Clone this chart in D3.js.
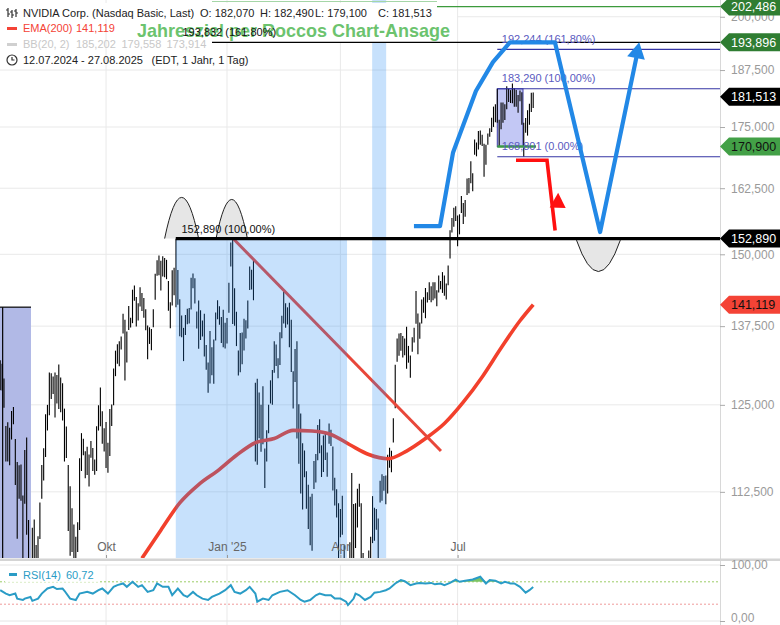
<!DOCTYPE html>
<html><head><meta charset="utf-8">
<script src="https://cdn.jsdelivr.net/npm/d3@7"></script>
<style>
html,body{margin:0;padding:0;background:#fff;}
svg{display:block;font-family:"Liberation Sans",Arial,sans-serif;}
</style></head><body>
<svg id="c" width="780" height="625"></svg>
<script>
// ---------------- DATA (NVIDIA daily bars, 12.07.2024 - 27.08.2025) ----------------
const highs = [
131.92,131.39,129.04,121.85,122.40,121.60,124.07,124.69,119.94,116.63,116.20,116.28,111.99,118.34,
120.16,108.72,103.41,107.71,108.80,105.50,106.60,111.05,116.23,118.60,123.57,125.00,130.00,129.88,129.35,130.00,129.60,131.26,129.20,128.33,124.43,121.75,
116.21,113.27,110.29,108.15,106.55,108.44,117.19,120.79,119.96,118.18,118.80,117.70,119.66,118.62,116.99,121.80,124.94,127.67,124.03,121.50,
122.44,119.38,124.36,125.04,130.64,133.48,134.52,135.00,135.78,139.60,138.57,136.62,140.89,138.90,143.71,144.42,142.43,141.35,144.13,143.14,142.26,140.33,137.61,
137.31,137.02,140.36,146.49,148.93,149.77,148.85,149.65,149.33,149.00,145.24,141.55,147.13,147.56,152.89,147.16,142.05,139.30,137.22,139.35,
140.45,140.54,145.79,146.54,145.70,139.95,141.82,140.17,138.44,139.60,134.40,131.59,136.70,134.03,135.28,139.79,141.90,140.85,139.02,140.27,138.07,
138.88,144.90,152.16,153.13,143.95,139.92,133.49,136.38,136.45,138.75,138.50,141.83,147.79,147.23,148.97,128.40,129.00,126.89,125.00,127.85,
118.57,121.20,125.00,128.77,130.37,135.00,134.48,132.24,136.50,139.25,143.44,141.36,140.67,141.46,138.59,130.20,133.73,135.01,125.09,
123.70,119.31,118.28,115.35,113.48,111.85,112.23,116.77,117.76,121.98,122.84,119.02,120.45,120.94,117.99,122.22,121.29,118.84,114.45,112.87,110.96,
110.20,111.98,105.46,100.13,101.75,105.85,115.10,110.86,110.96,112.94,113.62,110.97,104.47,99.53,99.81,104.80,106.54,111.92,110.37,110.20,108.92,
114.03,114.94,114.67,114.74,117.68,118.68,118.23,123.00,131.22,135.44,136.30,136.35,135.87,135.45,137.40,134.25,132.68,135.66,137.25,143.49,139.62,
138.12,142.00,142.40,144.00,143.27,145.00,144.29,144.99,145.00,143.59,146.18,145.22,146.80,146.20,144.78,148.00,154.45,156.72,158.71,158.99,
157.20,157.44,160.98,159.60,160.20,164.42,164.50,167.89,165.49,172.40,171.75,174.16,174.25,173.38,171.50,171.28,173.64,174.72,177.00,179.38,179.89,183.30,
176.54,180.27,180.26,179.89,183.88,183.30,183.00,184.47,183.40,183.03,181.90,182.94,182.50,175.91,176.90,178.60,180.00,182.44,182.49
];
const lows = [
127.22,127.18,124.58,116.72,116.71,116.20,119.86,122.10,113.44,106.30,111.58,111.30,102.54,110.88,
106.81,101.37,90.69,100.55,98.69,97.52,103.43,106.26,111.58,114.07,117.34,121.18,123.42,125.89,126.66,123.10,125.22,124.37,123.88,122.64,116.71,117.22,
107.29,104.12,104.60,100.95,103.69,104.60,107.42,115.38,117.60,114.36,114.83,113.22,117.25,115.39,114.86,115.38,121.17,121.80,119.26,118.15,
115.79,115.14,117.50,121.83,124.95,129.42,131.38,131.00,133.66,136.30,128.74,131.58,136.87,137.28,138.00,141.78,137.46,138.46,140.80,140.05,138.90,136.81,132.11,
134.57,133.56,137.33,141.96,146.17,146.26,143.57,146.01,145.90,145.55,140.08,137.15,140.99,142.73,140.70,141.10,135.82,135.67,131.80,136.05,
137.82,137.95,140.29,143.95,141.31,137.13,133.79,135.21,135.80,132.54,130.42,126.86,128.28,129.55,128.22,135.12,138.65,137.73,134.71,134.02,133.83,
134.63,139.73,147.82,137.88,137.56,134.22,129.51,130.05,131.29,133.49,135.47,137.09,143.67,143.72,141.88,116.70,116.25,120.05,118.10,119.19,
113.01,116.70,120.76,125.21,125.00,129.96,131.02,129.08,131.17,135.50,137.93,137.22,137.78,134.03,130.08,124.44,128.49,120.01,116.40,
112.28,110.11,114.51,110.22,107.56,105.46,104.77,112.88,113.79,116.90,117.90,114.54,115.24,116.92,114.56,119.26,118.92,112.70,110.66,109.07,103.65,
106.47,106.79,101.19,92.11,86.62,94.46,94.33,99.15,105.10,107.76,110.50,102.25,100.05,95.04,97.28,102.02,103.11,105.73,106.02,107.44,102.50,
111.06,111.30,112.66,110.82,112.28,115.85,115.21,119.44,124.47,131.68,132.66,133.46,132.39,132.74,130.59,131.55,129.16,133.31,134.79,137.91,132.92,
135.40,137.95,139.73,138.83,141.51,141.94,141.53,141.87,142.20,140.85,143.20,143.78,143.15,142.65,142.03,144.50,149.26,154.02,155.10,156.16,
151.49,153.67,157.69,155.60,157.00,161.16,161.50,163.47,161.90,169.20,168.90,170.30,171.26,171.00,164.77,167.20,171.30,172.96,173.97,175.02,176.04,175.93,
170.89,174.52,175.90,176.48,178.80,180.40,180.17,180.10,179.35,179.35,178.04,180.57,175.49,168.80,173.80,173.19,175.46,178.19,179.10
];
// EMA(200) (bar index, value)
const emaIdx = [75,85,95,105,115,125,135,145,155,165,175,185,195,205,215,225,235,245,255,265,275,282];
const emaVal = [103.8,107.4,111.0,113.5,115.4,117.6,119.4,120.0,121.2,121.1,120.6,119.1,117.7,117.1,118.2,120.0,122.2,125.4,129.3,133.9,138.4,141.12];
// RSI(14) (bar index, value)
const rsiIdx = [0,3,5,8,9,12,13,16,17,20,22,25,28,30,33,34,37,40,42,46,49,52,54,57,60,62,65,67,70,73,75,78,81,83,86,89,91,94,97,99,102,104,107,110,112,116,119,122,124,127,130,132,135,136,139,142,144,148,152,156,159,161,164,167,169,172,175,177,180,183,184,187,188,190,193,196,198,201,204,206,209,212,214,217,220,222,225,228,230,233,235,238,241,243,246,250,254,257,259,262,265,267,270,272,275,278,280,282];
const rsiVal = [55,49,46,49,40,37.5,40,43,36,40,49,58,61,57,58,54,40,37.5,49,52,49,55,58,49,61,64,67,61,70,61,64,52,55,67,61,61,46,58,46,43,52,46,40,37.5,43,49,55,64,52,49,55,61,49,34.5,40,37.5,46,52,55,46,37.5,34.5,37.5,46,49,46,46,40,40,34.5,28.5,40,49,46,37.5,43,50.6,52,55,58,67,73,71,64,67,68,67,68,65.5,67,64,68,74,70,72,74,79,67,73,72,67,70,67,67,61,50.6,55,60.72];
// x-axis ticks
const tickMonths = ["2024-10","2025-01","2025-04","2025-07"];
const tickLabels = ["Okt","Jan '25","Apr","Jul"];
const yTicks = [112.5,125,137.5,150,162.5,175,187.5,200];
const rsiTicks = [0,100];
// price markers on the right axis
const markerVals = [202.486,193.896,181.513,170.9,152.89,141.119];
const markerKinds = ["dg","dg","bk","lg","bk","rd"];
// Fibonacci levels
const fibVals = [192.244,183.29,168.801];
const fibLabels = ["192,244 (161,80%)","183,290 (100,00%)","168,801 (0.00%)"];
// drawings (bar index / price)
const trendIdx = [123.2,233.2], trendVal = [152.9,118.2];
const bluePathIdx = [218.9,232.7,239.6,251.7,260.7,269.7,293.5,317.4,336.6];
const bluePathVal = [155.2,155.2,169.7,182.8,189.3,193.9,193.9,154.1,190.4];
const blueTip = [338.1,193.9];
const redPathIdx = [272.9,289.3,293.6], redPathVal = [168.1,168.1,154.4];
const redArrowBase = [294.6,158.4], redArrowTip = [295.2,161.6];
const humpIdx = [96.0,122.5,316.5], humpHalf = [9.0,8.3,11.6], humpBase = [152.89,152.89,152.6], humpPeak = [160.7,160.3,146.9];

// ---------------- SETUP ----------------
const holidays = new Set(["2024-09-02","2024-11-28","2024-12-25","2025-01-01","2025-01-09","2025-01-20","2025-02-17","2025-04-18","2025-05-26","2025-06-19","2025-07-04"]);
const dates = [];
for (let d = new Date(Date.UTC(2024,6,12)); d <= new Date(Date.UTC(2025,7,27)); d.setUTCDate(d.getUTCDate()+1)) {
  const wd = d.getUTCDay(), s = d.toISOString().slice(0,10);
  if (wd===0||wd===6||holidays.has(s)) continue;
  dates.push(s);
}
const N = highs.length;
const W = 780, PR = 720, MB = 558;
const x = d3.scaleLinear().domain([0, N-1]).range([0.2, 533.2]);
const y = d3.scaleLog().domain([103.84, 204.1]).range([MB, 0]);
const yR = d3.scaleLinear().domain([0,100]).range([621,565]);
const loc = d3.formatLocale({decimal:",", thousands:".", grouping:[3], currency:["","€"]});
const f3 = loc.format(".3f"), f2 = loc.format(".2f");
const tickIdx = tickMonths.map(m => dates.findIndex(s => s.startsWith(m)));

const svg = d3.select("#c");
const defs = svg.append("defs");
defs.append("clipPath").attr("id","mainClip").append("rect").attr("x",0).attr("y",0).attr("width",PR).attr("height",MB);

// gridlines
const grid = svg.append("g");
grid.selectAll("line.h").data(yTicks).join("line")
  .attr("x1",0).attr("x2",PR).attr("y1",d=>y(d)).attr("y2",d=>y(d)).attr("stroke","#e9e9e9");
grid.selectAll("line.v").data(tickIdx).join("line")
  .attr("x1",d=>x(d)).attr("x2",d=>x(d)).attr("y1",0).attr("y2",MB).attr("stroke","#e9e9e9");
grid.selectAll("line.vr").data(tickIdx).join("line")
  .attr("x1",d=>x(d)).attr("x2",d=>x(d)).attr("y1",565).attr("y2",625).attr("stroke","#e9e9e9");

const main = svg.append("g").attr("clip-path","url(#mainClip)");
// purple boxes (under bars)
main.append("rect").attr("x",x(-0.1)).attr("y",y(140.70)).attr("width",x(16.3)-x(-0.1)).attr("height",MB-y(140.70)).attr("fill","#b1b9e6");
main.append("line").attr("x1",x(-0.1)).attr("x2",x(16.3)).attr("y1",y(140.70)).attr("y2",y(140.70)).attr("stroke","#000").attr("stroke-width",1.2);
main.append("line").attr("x1",x(1.3)).attr("x2",x(1.3)).attr("y1",y(140.70)).attr("y2",MB).attr("stroke","#000").attr("stroke-width",1.2);
main.append("rect").attr("x",x(263)).attr("y",y(183.29)).attr("width",x(276.6)-x(263)).attr("height",y(170.9)-y(183.29))
  .attr("fill","#c3c8f5").attr("stroke","#3b3ba6").attr("stroke-width",1);

// bars
main.append("g").selectAll("line").data(d3.range(N)).join("line")
  .attr("x1",i=>x(i)).attr("x2",i=>x(i)).attr("y1",i=>y(highs[i])).attr("y2",i=>y(lows[i]))
  .attr("stroke","#000").attr("stroke-width",1.1);

// EMA 200
main.append("path").datum(d3.range(emaIdx.length))
  .attr("d", d3.line().x(k=>x(emaIdx[k])).y(k=>y(emaVal[k])).curve(d3.curveMonotoneX))
  .attr("fill","none").attr("stroke","#f2402c").attr("stroke-width",3.6);
// trend line
main.append("line").attr("x1",x(trendIdx[0])).attr("y1",y(trendVal[0])).attr("x2",x(trendIdx[1])).attr("y2",y(trendVal[1]))
  .attr("stroke","#e8473a").attr("stroke-width",3);

// blue highlight overlays
main.append("rect").attr("x",x(92.9)).attr("y",y(152.89)).attr("width",x(183.5)-x(92.9)).attr("height",MB-y(152.89))
  .attr("fill","rgb(40,140,245)").attr("fill-opacity",0.26);
main.append("rect").attr("x",x(196.8)).attr("y",0).attr("width",x(204.2)-x(196.8)).attr("height",MB)
  .attr("fill","rgb(40,140,245)").attr("fill-opacity",0.26);

// legend background for green text
svg.append("rect").attr("x",135).attr("y",9).attr("width",322).attr("height",34).attr("fill","#fff");
svg.append("rect").attr("x",0).attr("y",3).attr("width",437).attr("height",16).attr("fill","#fff");
svg.append("line").attr("x1",212).attr("x2",437).attr("y1",1.5).attr("y2",1.5).attr("stroke","#a5d6a7").attr("stroke-width",1.2);
svg.append("text").attr("x",137).attr("y",36.5).attr("font-size",19).attr("font-weight","bold")
  .attr("fill","#6cc36e").attr("textLength",313).attr("lengthAdjust","spacingAndGlyphs").text("Jahresziel per Roccos Chart-Ansage");

// humps (under the level labels)
humpIdx.forEach((c,k)=>{
  const x0=x(c-humpHalf[k]), x1=x(c+humpHalf[k]), xc=x(c), yb=y(humpBase[k]), yp=y(humpPeak[k]);
  const cy = yb + 2*(yp-yb);
  svg.append("path").attr("d",`M${x0},${yb} Q${xc},${cy} ${x1},${yb} Z`).attr("fill","#e6e6e6");
  svg.append("path").attr("d",`M${x0},${yb} Q${xc},${cy} ${x1},${yb}`).attr("fill","none").attr("stroke","#222").attr("stroke-width",1);
});

// horizontal level lines
svg.append("line").attr("x1",437).attr("x2",PR).attr("y1",y(202.486)).attr("y2",y(202.486)).attr("stroke","#3c9a3c").attr("stroke-width",1.2);
svg.append("line").attr("x1",212).attr("x2",PR).attr("y1",y(193.896)).attr("y2",y(193.896)).attr("stroke","#000").attr("stroke-width",1.2);
svg.append("text").attr("x",182.5).attr("y",y(193.896)-6.5).attr("font-size",11).attr("fill","#111").text("193,832 (161.80%)");
svg.append("line").attr("x1",x(92.9)).attr("x2",PR).attr("y1",y(152.89)).attr("y2",y(152.89)).attr("stroke","#000").attr("stroke-width",3.2);
svg.append("text").attr("x",181.5).attr("y",y(152.89)-6).attr("font-size",11).attr("fill","#111").text("152,890 (100,00%)");
// fib lines
svg.selectAll("line.fib").data(fibVals).join("line")
  .attr("x1",x(263)).attr("x2",PR).attr("y1",d=>y(d)).attr("y2",d=>y(d)).attr("stroke","#3434a4").attr("stroke-width",1.1);
svg.append("line").attr("x1",x(263)).attr("x2",x(283.5)).attr("y1",y(170.9)).attr("y2",y(170.9)).attr("stroke","#3c9a46").attr("stroke-width",2.5);
svg.append("g").selectAll("text").data(fibVals).join("text")
  .attr("x",x(263)+4.5).attr("y",d=>y(d)-6.5).attr("font-size",11).attr("fill","#5a5ac0").text((d,i)=>fibLabels[i]);

// arrows
function arrowHead(bx,by,tx,ty,len,half,color){
  const dx=tx-bx, dy=ty-by, L=Math.hypot(dx,dy), ux=dx/L, uy=dy/L;
  const cx=tx-ux*len, cy=ty-uy*len, nx=-uy, ny=ux;
  svg.append("path").attr("d",`M${tx},${ty} L${cx+nx*half},${cy+ny*half} L${cx-nx*half},${cy-ny*half} Z`).attr("fill",color);
}
svg.append("path").datum(d3.range(bluePathIdx.length))
  .attr("d", d3.line().x(k=>x(bluePathIdx[k])).y(k=>y(bluePathVal[k])))
  .attr("fill","none").attr("stroke","#2288e6").attr("stroke-width",4.2).attr("stroke-linejoin","round");
arrowHead(x(bluePathIdx[7]),y(bluePathVal[7]),x(blueTip[0]),y(blueTip[1]),16,9,"#2288e6");
svg.append("path").datum(d3.range(redPathIdx.length))
  .attr("d", d3.line().x(k=>x(redPathIdx[k])).y(k=>y(redPathVal[k])))
  .attr("fill","none").attr("stroke","#ff1010").attr("stroke-width",3.6);
arrowHead(x(redArrowBase[0]),y(redArrowBase[1])+20,x(redArrowTip[0]),y(redArrowTip[1]),15,8,"#ff1010");

// right axis
svg.append("line").attr("x1",PR+0.5).attr("x2",PR+0.5).attr("y1",0).attr("y2",625).attr("stroke","#d8d8d8");
const ax = svg.append("g").attr("transform",`translate(${PR},0)`)
  .call(d3.axisRight(y).tickValues(yTicks).tickFormat(f3).tickSize(5).tickPadding(6));
ax.select(".domain").remove();
ax.selectAll("line").attr("stroke","#aaa");
ax.selectAll("text").attr("fill","#9a9a9a").attr("font-size",12).attr("font-family","Liberation Sans, Arial");

// right markers
const mk = {dg:["#2f7d32","#fff"], lg:["#43a047","#111"], bk:["#000","#fff"], rd:["#f44336","#111"]};
markerVals.forEach((v,k)=>{
  const cy=y(v), c=mk[markerKinds[k]];
  svg.append("path").attr("d",`M${PR},${cy} L${PR+9},${cy-9} L${W},${cy-9} L${W},${cy+9} L${PR+9},${cy+9} Z`).attr("fill",c[0]);
  svg.append("text").attr("x",731).attr("y",cy+4.3).attr("font-size",12.5).attr("fill",c[1]).text(f3(v));
});

// x axis labels
const xa = svg.append("g").attr("transform",`translate(0,${MB})`)
  .call(d3.axisTop(x).tickValues(tickIdx).tickFormat((d,i)=>tickLabels[i]).tickSize(3).tickPadding(4));
xa.select(".domain").remove();
xa.selectAll("line").attr("stroke","#999");
xa.selectAll("text").attr("fill","#666").attr("font-size",12).attr("font-family","Liberation Sans, Arial");

// pane separator
svg.append("rect").attr("x",0).attr("y",558.5).attr("width",W).attr("height",2.5).attr("fill","#d4d4d4");
svg.append("line").attr("x1",0).attr("x2",PR).attr("y1",565).attr("y2",565).attr("stroke","#e4e4e4");
svg.append("line").attr("x1",0).attr("x2",PR).attr("y1",621).attr("y2",621).attr("stroke","#e4e4e4");

// RSI pane
svg.append("line").attr("x1",0).attr("x2",PR).attr("y1",yR(70)).attr("y2",yR(70)).attr("stroke","#9ccc65").attr("stroke-dasharray","2,2");
svg.append("line").attr("x1",0).attr("x2",PR).attr("y1",yR(30)).attr("y2",yR(30)).attr("stroke","#ef9a9a").attr("stroke-dasharray","2,2");
svg.append("path").datum(d3.range(rsiIdx.length))
  .attr("d", d3.area().x(k=>x(rsiIdx[k])).y0(yR(70)).y1(k=>yR(Math.max(70,rsiVal[k]))))
  .attr("fill","#7cc464");
svg.append("path").datum(d3.range(rsiIdx.length))
  .attr("d", d3.line().x(k=>x(rsiIdx[k])).y(k=>yR(rsiVal[k])))
  .attr("fill","none").attr("stroke","#2a9cc6").attr("stroke-width",2);
const ar = svg.append("g").attr("transform",`translate(${PR},0)`)
  .call(d3.axisRight(yR).tickValues(rsiTicks).tickFormat(f2).tickSize(5).tickPadding(6));
ar.select(".domain").remove();
ar.selectAll("line").attr("stroke","#aaa");
ar.selectAll("text").attr("fill","#9a9a9a").attr("font-size",12).attr("font-family","Liberation Sans, Arial")
  .attr("dy",d=>d===0?"0.05em":"0.32em");
svg.append("rect").attr("x",5).attr("y",567).attr("width",95).attr("height",15).attr("fill","#fff").attr("fill-opacity",0.9);
svg.append("rect").attr("x",9).attr("y",573).attr("width",8).attr("height",3).attr("fill","#2a9cc6");
svg.append("text").attr("x",23).attr("y",578.5).attr("font-size",11).attr("fill","#2a9cc6").text("RSI(14)");
svg.append("text").attr("x",66).attr("y",578.5).attr("font-size",11).attr("fill","#2a9cc6").text("60,72");

// legend
const lg = svg.append("g").attr("font-size",11);
lg.append("path").attr("d","M8,8 V17 M6,10 H8 M8,14 H10 M12,10 V18 M10,12 H12 M12,15 H14 M16,9 V17 M14,11 H16 M16,13 H18")
  .attr("stroke","#333").attr("stroke-width",1.2).attr("fill","none");
const row1 = [["NVIDIA Corp. (Nasdaq Basic, Last)",23],["O: 182,070",200],["H: 182,490",260],["L: 179,100",315],["C: 181,513",378]];
row1.forEach(r=>lg.append("text").attr("x",r[1]).attr("y",16.8).attr("fill","#222").text(r[0]));
lg.append("rect").attr("x",7).attr("y",27).attr("width",10).attr("height",3).attr("fill","#f44336");
lg.append("text").attr("x",23).attr("y",32.3).attr("fill","#f44336").text("EMA(200)");
lg.append("text").attr("x",76).attr("y",32.3).attr("fill","#f44336").text("141,119");
lg.append("rect").attr("x",7).attr("y",43).attr("width",10).attr("height",3).attr("fill","#d0d0d0");
[["BB(20, 2)",23],["185,202",76],["179,558",121.5],["173,914",166.5]].forEach(r=>
  lg.append("text").attr("x",r[1]).attr("y",48.3).attr("fill","#c8c8c8").text(r[0]));
lg.append("circle").attr("cx",12).attr("cy",60).attr("r",5).attr("fill","none").attr("stroke","#333").attr("stroke-width",1.2);
lg.append("path").attr("d","M12,57 V60 H14.5").attr("fill","none").attr("stroke","#333").attr("stroke-width",1.2);
lg.append("text").attr("x",23).attr("y",64.3).attr("fill","#222").text("12.07.2024 - 27.08.2025");
lg.append("text").attr("x",151.5).attr("y",64.3).attr("fill","#222").text("(EDT, 1 Jahr, 1 Tag)");
</script>
</body></html>
